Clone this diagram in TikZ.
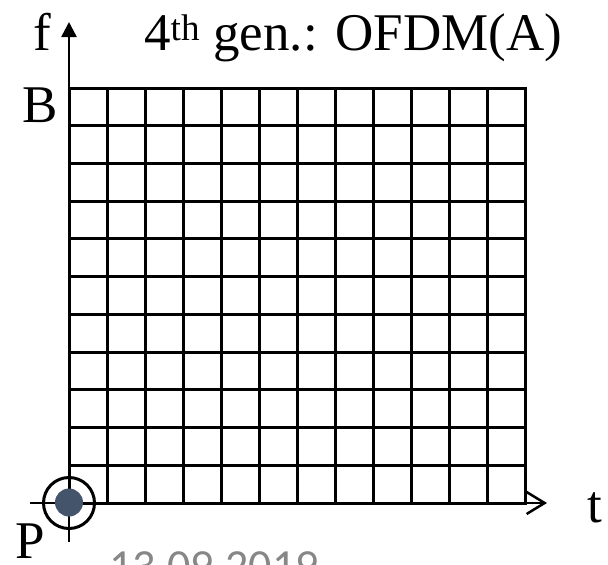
\documentclass[tikz,border=0pt]{standalone}
\usepackage{fontspec}
\setmainfont{Liberation Serif}
\newfontfamily\datefont{Carlito}
\usetikzlibrary{arrows.meta}
\definecolor{dotblue}{RGB}{68,84,106}
\definecolor{dategray}{RGB}{135,135,135}
\begin{document}
\begin{tikzpicture}[x=1pt,y=-1pt,
  lbl/.style={inner sep=0pt, anchor=base west, font=\fontsize{53}{60}\selectfont},
  gridline/.style={line width=3pt},
  axisline/.style={line width=2.5pt}]
\clip (0,0) rectangle (608,565);
\useasboundingbox (0,0) rectangle (608,565);
% grid
\foreach \i in {1,...,11} \draw[gridline] ({69+38*\i},88) -- ({69+38*\i},503);
\foreach \j in {1,...,10} \draw[gridline] (69,{88+415/11*\j}) -- (525,{88+415/11*\j});
\draw[gridline] (69,88) rectangle (525,503);
% axes
\coordinate (fbot) at (69,542);
\coordinate (ftop) at (69,22);
\coordinate (tleft) at (30,503);
\coordinate (tright) at (547,503);
\draw[axisline, -{Triangle[length=15pt,width=15pt]}] (fbot) -- (ftop);
\draw[axisline, -{Straight Barb[length=18pt,width=22pt]}] (tleft) -- (tright);
% origin marker
\draw[line width=3pt] (69,503) circle[radius=25.5];
\fill[dotblue] (69,502.5) circle[radius=14];
% labels
\node[lbl] (f) at (33,50) {f};
\node[lbl] (title) at (144,50) {4\textsuperscript{th} gen.: OFDM(A)};
\node[lbl] (B) at (22,122) {B};
\node[lbl] (P) at (15,558) {P};
\node[lbl] (t) at (587,522) {t};
\node[inner sep=0pt, anchor=base west, font=\datefont\fontsize{46}{50}\selectfont, text=dategray] (date) at (109,581) {13.09.2019};
\end{tikzpicture}
\end{document}
